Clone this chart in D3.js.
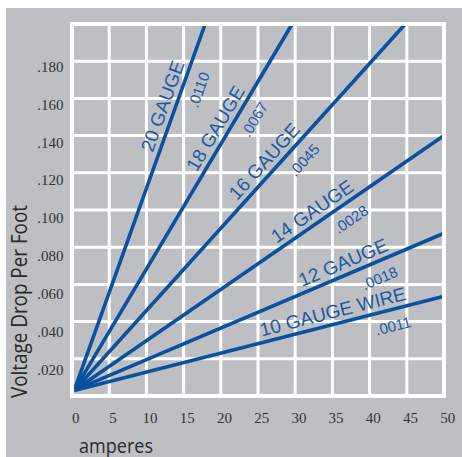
<!DOCTYPE html>
<html>
<head>
<meta charset="utf-8">
<script src="https://cdnjs.cloudflare.com/ajax/libs/d3/7.8.5/d3.min.js"></script>
<style>
  body { margin: 0; background: #fff; }
</style>
</head>
<body>
<div id="graph"></div>
<script>

// wire gauges and their voltage drop per foot per ampere
var gauges = ["20 GAUGE", "18 GAUGE", "16 GAUGE", "14 GAUGE", "12 GAUGE", "10 GAUGE WIRE"];
var dropLabels = [".0110", ".0067", ".0045", ".0028", ".0018", ".0011"];

// where each line starts and ends (amperes, volts per foot)
var startAmps = 0.3, startVolts = 0.003;
var endAmps = [17.9, 29.6, 44.8, 50, 50, 50];
var endVolts = [0.200, 0.200, 0.200, 0.140, 0.0875, 0.0536];

// axis ticks
var xTicks = [0, 5, 10, 15, 20, 25, 30, 35, 40, 45, 50];
var yTicks = [0.02, 0.04, 0.06, 0.08, 0.10, 0.12, 0.14, 0.16, 0.18, 0.20];
var yTickLabels = [".020", ".040", ".060", ".080", ".100", ".120", ".140", ".160", ".180", ""];

var width = 462, height = 457;
var gray = "#bebfc3", blue = "#0a52a0", textBlue = "#1a5ba6";

var svg = d3.select("#graph")
    .append("svg")
    .attr("width", width)
    .attr("height", height);

// gray panel
svg.append("rect")
    .attr("x", 6).attr("y", 8)
    .attr("width", width - 6).attr("height", height - 8)
    .attr("fill", gray);

var x = d3.scaleLinear().domain([0, 50]).range([72, 444]);
var y = d3.scaleLinear().domain([0, 0.2]).range([396, 24]);
// tick labels sit a little off the grid spacing in the original
var yLab = d3.scaleLinear().domain([0.02, 0.18]).range([374.5, 72]);

// inner grid
svg.append("g").selectAll("line")
    .data(xTicks.slice(1, -1))
    .enter().append("line")
    .attr("x1", function (d) { return x(d); })
    .attr("x2", function (d) { return x(d); })
    .attr("y1", y(0)).attr("y2", y(0.2))
    .attr("stroke", "#fff").attr("stroke-width", 3);

svg.append("g").selectAll("line")
    .data(yTicks.slice(0, -1))
    .enter().append("line")
    .attr("y1", function (d) { return y(d); })
    .attr("y2", function (d) { return y(d); })
    .attr("x1", x(0)).attr("x2", x(50))
    .attr("stroke", "#fff").attr("stroke-width", 3);

// the gauge lines
svg.append("g").selectAll("line")
    .data(gauges)
    .enter().append("line")
    .attr("x1", x(startAmps)).attr("y1", y(startVolts))
    .attr("x2", function (d, i) { return x(endAmps[i]); })
    .attr("y2", function (d, i) { return y(endVolts[i]); })
    .attr("stroke", blue).attr("stroke-width", 3.6);

// border
svg.append("rect")
    .attr("x", x(0)).attr("y", y(0.2))
    .attr("width", x(50) - x(0)).attr("height", y(0) - y(0.2))
    .attr("fill", "none").attr("stroke", "#fff").attr("stroke-width", 4);

// labels along each line
function along(i, dist) {
    var x0 = x(startAmps), y0 = y(startVolts);
    var dx = x(endAmps[i]) - x0, dy = y(endVolts[i]) - y0;
    var len = Math.sqrt(dx * dx + dy * dy);
    var ang = Math.atan2(dy, dx) * 180 / Math.PI;
    return "translate(" + (x0 + dx / len * dist) + "," + (y0 + dy / len * dist) + ") rotate(" + ang + ")";
}

svg.append("g").selectAll("text")
    .data(gauges)
    .enter().append("text")
    .attr("transform", function (d, i) { return along(i, 345); })
    .attr("y", -6)
    .attr("text-anchor", "end")
    .attr("font-family", "Liberation Sans, Arial, sans-serif")
    .attr("font-size", "19px")
    .attr("fill", textBlue)
    .text(function (d) { return d; });

svg.append("g").selectAll("text")
    .data(dropLabels)
    .enter().append("text")
    .attr("transform", function (d, i) { return along(i, 325); })
    .attr("y", 21.5)
    .attr("text-anchor", "middle")
    .attr("font-family", "Liberation Sans, Arial, sans-serif")
    .attr("font-size", "15px")
    .attr("fill", textBlue)
    .text(function (d) { return d; });

// tick labels
svg.append("g").selectAll("text")
    .data(yTicks.slice(0, -1))
    .enter().append("text")
    .attr("x", 63.5)
    .attr("y", function (d) { return yLab(d); })
    .attr("text-anchor", "end")
    .attr("font-family", "Liberation Serif, serif")
    .attr("font-size", "15px")
    .attr("fill", "#333")
    .text(function (d, i) { return yTickLabels[i]; });

svg.append("g").selectAll("text")
    .data(xTicks)
    .enter().append("text")
    .attr("x", function (d) { return x(d) + 3.7; })
    .attr("y", 423)
    .attr("text-anchor", "middle")
    .attr("font-family", "Liberation Serif, serif")
    .attr("font-size", "15px")
    .attr("fill", "#333")
    .text(function (d) { return d; });

// axis titles
svg.append("text")
    .attr("x", 79).attr("y", 452.5)
    .attr("font-family", "Open Sans, sans-serif")
    .attr("font-size", "20px")
    .attr("textLength", 74).attr("lengthAdjust", "spacingAndGlyphs")
    .attr("fill", "#2a2a2a")
    .text("amperes");

svg.append("text")
    .attr("transform", "translate(27,301.5) rotate(-90)")
    .attr("text-anchor", "middle")
    .attr("font-family", "Open Sans, sans-serif")
    .attr("font-size", "22px")
    .attr("textLength", 193).attr("lengthAdjust", "spacingAndGlyphs")
    .attr("fill", "#2a2a2a")
    .text("Voltage Drop Per Foot");

</script>
</body>
</html>
